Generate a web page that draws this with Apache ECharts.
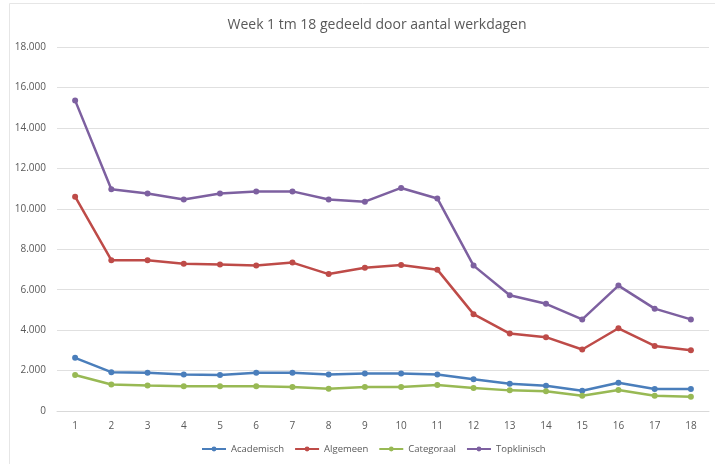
<!DOCTYPE html>
<html>
<head>
<meta charset="utf-8">
<style>
  html, body { margin: 0; padding: 0; background: #ffffff; }
  #chart { width: 715px; height: 464px; }
</style>
<script src="https://cdn.jsdelivr.net/npm/echarts@6/dist/echarts.min.js"></script>
</head>
<body>
<div id="chart"></div>
<script>
// Weeks 1 to 18
const weeks = ['1','2','3','4','5','6','7','8','9','10','11','12','13','14','15','16','17','18'];

// Per-type values, divided by the number of working days
const academisch  = [2630, 1920, 1890, 1810, 1780, 1890, 1890, 1810, 1850, 1850, 1810, 1570, 1350, 1250, 1000, 1400, 1090, 1090];
const algemeen    = [10600, 7460, 7460, 7280, 7240, 7200, 7340, 6770, 7080, 7220, 6990, 4790, 3830, 3650, 3040, 4090, 3220, 3000];
const categoraal  = [1780, 1310, 1260, 1230, 1230, 1230, 1190, 1100, 1190, 1190, 1280, 1140, 1020, 980, 750, 1040, 750, 710];
const topklinisch = [15360, 10970, 10760, 10460, 10760, 10860, 10860, 10460, 10350, 11030, 10510, 7190, 5720, 5300, 4530, 6200, 5060, 4530];

const seriesNames = ['Academisch', 'Algemeen', 'Categoraal', 'Topklinisch'];
const seriesData = [academisch, algemeen, categoraal, topklinisch];
const colors = ['#4a7ebb', '#be4b48', '#98b954', '#7d60a0'];

const fontFamily = '"Open Sans", "Liberation Sans", sans-serif';

// Dutch thousands separator
function fmt(v) {
  return String(v).replace(/\B(?=(\d{3})+(?!\d))/g, '.');
}

const chart = echarts.init(document.getElementById('chart'), null, { renderer: 'canvas' });

chart.setOption({
  backgroundColor: '#ffffff',
  animation: false,
  color: colors,
  title: {
    text: 'Week 1 tm 18 gedeeld door aantal werkdagen',
    left: 372,
    textAlign: 'center',
    top: 13,
    textStyle: { fontFamily, fontSize: 14, fontWeight: 'normal', color: '#595959' }
  },
  graphic: [{
    type: 'rect',
    shape: { x: 9.5, y: 3.5, width: 720, height: 470 },
    style: { fill: 'none', stroke: '#e6e6e6', lineWidth: 1 },
    silent: true
  }],
  legend: {
    bottom: 5,
    left: 196,
    itemWidth: 24,
    itemHeight: 6,
    itemGap: 10,
    textStyle: { fontFamily, fontSize: 9.5, color: '#595959' },
    data: seriesNames
  },
  grid: { left: 57, right: 6, top: 47, bottom: 53 },
  xAxis: {
    type: 'category',
    data: weeks,
    boundaryGap: true,
    axisLine: { show: true, lineStyle: { color: '#d9d9d9' } },
    axisTick: { show: false },
    axisLabel: { fontFamily, fontSize: 10, color: '#595959', margin: 10 }
  },
  yAxis: {
    type: 'value',
    min: 0,
    max: 18000,
    interval: 2000,
    axisLine: { show: false },
    axisTick: { show: false },
    axisLabel: { fontFamily, fontSize: 10, color: '#595959', margin: 11, formatter: fmt },
    splitLine: { lineStyle: { color: '#e0e0e0', width: 1 } }
  },
  series: seriesNames.map((name, i) => ({
    name,
    type: 'line',
    data: seriesData[i],
    symbol: 'circle',
    symbolSize: 6,
    lineStyle: { width: 2.5, color: colors[i] },
    itemStyle: { color: colors[i] }
  }))
});
</script>
</body>
</html>
